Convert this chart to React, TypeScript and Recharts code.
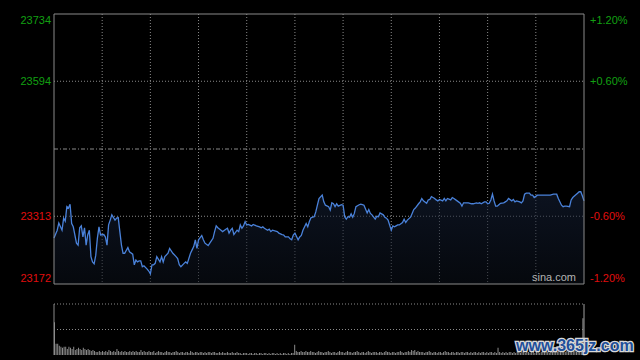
import React from "react";
import {
  ComposedChart,
  Area,
  Line,
  XAxis,
  YAxis,
  CartesianGrid,
  ReferenceLine,
  BarChart,
  Bar,
} from "recharts";

// minutes since 09:30 (lunch break removed), 330 = 16:00
const minutes = [
  0, 2, 3, 5, 6, 7, 8, 9, 10, 11, 12, 14, 15, 16, 17, 18, 19, 20, 21, 22, 23, 24, 25, 26, 27, 28, 29, 31, 32, 33,
  34, 35, 36, 38, 39, 40, 41, 42, 43, 44, 46, 47, 49, 50, 51, 52, 53, 54, 55, 56, 58, 59, 60, 61, 62, 63, 64, 66,
  67, 68, 69, 71, 72, 74, 76, 77, 78, 79, 81, 82, 83,
  85, 86, 87, 88, 89, 90, 92, 93, 94, 96, 97, 99, 100, 101, 102, 104, 105, 107, 108, 109, 110, 111, 112, 114,
  115, 116, 117, 118, 119, 120, 121, 123, 124, 126, 128, 129, 130, 131, 133, 134, 135, 136, 138, 139, 140, 142,
  143, 144, 146, 147, 148, 149, 150, 152, 153, 154, 155, 157, 158, 159, 160, 162, 163, 164, 165, 167,
  168, 169, 171, 172, 173, 174, 175, 176, 177, 179, 180, 181, 182, 183, 184, 185, 186, 187, 188, 190, 191, 192,
  193, 195, 196, 197, 198, 200, 201, 202, 203, 205, 206, 207, 208, 210, 211, 212, 213, 214, 215, 217, 218, 219,
  220, 222, 223, 224, 225, 227, 228, 229, 230, 232, 233, 234, 235, 237, 238, 239, 240, 242, 243, 244, 245, 247,
  248, 249,
  251, 253, 254, 255, 257, 258, 260, 261, 263, 264, 265, 266, 268, 269, 270, 271, 272, 273, 274, 275, 276, 277,
  278, 280, 281, 282, 283, 285, 286, 287, 288, 290, 291, 292, 293, 294, 296, 297, 298, 299, 301, 302, 303, 304,
  306, 307, 308, 309, 311, 312, 313, 314, 316, 317, 318, 319, 321, 322, 323, 324, 326, 327, 328, 329, 330,
];

const prices = [
  23268, 23284, 23299, 23284, 23309, 23303, 23333, 23330, 23338, 23298, 23291, 23257, 23253, 23289, 23293, 23270,
  23289, 23253, 23274, 23284, 23229, 23218, 23214, 23232, 23267, 23291, 23274, 23275, 23270, 23253, 23295, 23305,
  23316, 23305, 23309, 23310, 23281, 23253, 23236, 23236, 23248, 23239, 23234, 23212, 23222, 23218, 23220, 23220,
  23208, 23210, 23203, 23199, 23193, 23212, 23212, 23215, 23229, 23218, 23229, 23218, 23229, 23236, 23246, 23236,
  23229, 23225, 23212, 23208, 23215, 23218, 23215,
  23236, 23243, 23250, 23264, 23246, 23264, 23273, 23264, 23257, 23252, 23257, 23267, 23281, 23293, 23289, 23284,
  23281, 23286, 23288, 23278, 23284, 23288, 23275, 23284, 23281, 23295, 23288, 23293, 23302, 23295, 23296, 23293,
  23296, 23293, 23291, 23289, 23291, 23288, 23284, 23286, 23281, 23284, 23282, 23281, 23278, 23275, 23274, 23270,
  23270, 23266, 23264, 23274, 23278, 23264, 23270, 23273, 23284, 23298, 23291, 23302, 23310, 23312, 23322, 23336,
  23350, 23357,
  23343, 23336, 23333, 23326, 23341, 23339, 23333, 23339, 23334, 23337, 23336, 23312, 23307, 23312, 23311, 23318,
  23311, 23319, 23333, 23337, 23338, 23337, 23336, 23320, 23327, 23319, 23316, 23307, 23313, 23312, 23320, 23316,
  23311, 23309, 23305, 23284, 23293, 23291, 23293, 23295, 23295, 23300, 23307, 23300, 23305, 23311, 23319, 23327,
  23330, 23339, 23343, 23350, 23345, 23340, 23347, 23348, 23354, 23350, 23347, 23345, 23348, 23345, 23350, 23345,
  23350, 23347, 23352, 23350,
  23345, 23340, 23334, 23341, 23341, 23341, 23339, 23339, 23341, 23340, 23341, 23339, 23343, 23343, 23339, 23340,
  23347, 23359, 23345, 23334, 23334, 23337, 23340, 23341, 23343, 23345, 23350, 23345, 23348, 23343, 23345, 23343,
  23341, 23345, 23359, 23361, 23361, 23357, 23357, 23352, 23357, 23357, 23357, 23357, 23357, 23357, 23357, 23357,
  23359, 23359, 23359, 23350, 23336, 23333, 23334, 23334, 23333, 23347, 23352, 23355, 23361, 23364, 23364, 23355,
  23345,
];

// volume per minute, 0..330 (relative units)
const volumes = [
  32, 11, 11, 9, 8, 7, 8, 8, 6, 8,
  7, 6, 8, 5, 6, 7, 6, 5, 7, 6,
  5, 6, 5, 4, 5, 4, 3, 3, 4, 3,
  4, 3, 4, 3, 5, 4, 3, 4, 3, 6,
  4, 3, 4, 3, 4, 3, 3, 4, 3, 4,
  3, 4, 3, 3, 5, 3, 4, 3, 3, 4,
  3, 3, 4, 2, 3, 4, 3, 3, 2, 3,
  4, 3, 3, 2, 3, 3, 4, 3, 2, 3,
  3, 2, 3, 3, 2, 4, 3, 2, 3, 3,
  2, 3, 3, 2, 3, 2, 3, 3, 2, 3,
  3, 2, 2, 3, 2, 3, 2, 2, 3, 2,
  2, 3, 2, 2, 3, 2, 2, 1, 2, 2,
  2, 1, 2, 2, 1, 2, 2, 1, 2, 2,
  1, 2, 2, 1, 2, 1, 2, 2, 1, 2,
  1, 2, 1, 2, 2, 1, 2, 1, 2, 2,
  10, 4, 3, 3, 4, 3, 3, 4, 3, 3,
  4, 3, 3, 2, 3, 4, 3, 3, 2, 3,
  3, 4, 3, 2, 3, 3, 2, 3, 4, 3,
  3, 2, 3, 4, 3, 3, 2, 3, 3, 4,
  3, 2, 3, 3, 2, 3, 4, 3, 2, 3,
  3, 3, 2, 3, 3, 2, 3, 4, 3, 3,
  2, 3, 3, 2, 3, 3, 4, 3, 2, 3,
  3, 4, 3, 5, 4, 5, 3, 4, 3, 3,
  3, 2, 3, 3, 4, 3, 2, 3, 3, 2,
  3, 3, 2, 3, 4, 3, 3, 2, 3, 3,
  2, 3, 3, 2, 3, 3, 2, 3, 3, 2,
  3, 2, 3, 3, 2, 3, 2, 3, 3, 2,
  3, 2, 3, 3, 2, 3, 2, 7, 3, 2,
  3, 2, 3, 2, 3, 3, 2, 3, 2, 3,
  3, 2, 3, 3, 2, 3, 3, 2, 3, 3,
  2, 3, 3, 2, 3, 3, 4, 3, 3, 2,
  3, 3, 4, 3, 3, 4, 3, 4, 3, 3,
  4, 3, 4, 3, 4, 4, 3, 4, 3, 4,
  36,
];

const prevClose = 23453;
const priceTicks = [23172, 23313, 23453, 23594, 23734];
const pctTicks = [-1.2, -0.6, 0, 0.6, 1.2];
const timeGrid = [30, 60, 90, 120, 150, 180, 210, 240, 270, 300];

const priceData = minutes.map((m, i) => ({
  m,
  price: prices[i],
  pct: ((prices[i] - prevClose) / prevClose) * 100,
}));
const volumeData = volumes.map((v, i) => ({ m: i, vol: v }));

const GREEN = "#12a012";
const RED = "#e00e0e";
const BORDER = "#8a8a8a";
const GRID = "#8a8a8a";
const FONT = "Arial, 'Liberation Sans', sans-serif";

// edge labels are pushed inside the box like the original
function edgeShift(index: number, count: number) {
  if (index === count - 1) return 6;
  if (index === 0) return -6;
  return 0;
}

function PriceTick(props: any) {
  const { x, y, payload, index } = props;
  const v = Number(payload.value);
  if (v === prevClose) return null;
  return (
    <text
      x={x}
      y={y + edgeShift(index, priceTicks.length)}
      dy="0.36em"
      textAnchor="end"
      fill={v > prevClose ? GREEN : RED}
      fontSize={11}
      fontFamily={FONT}
    >
      {v}
    </text>
  );
}

function PctTick(props: any) {
  const { x, y, payload, index } = props;
  const v = Number(payload.value);
  if (v === 0) return null;
  return (
    <text
      x={x}
      y={y + edgeShift(index, pctTicks.length)}
      dy="0.36em"
      textAnchor="start"
      fill={v > 0 ? GREEN : RED}
      fontSize={11}
      fontFamily={FONT}
    >
      {(v > 0 ? "+" : "") + v.toFixed(2) + "%"}
    </text>
  );
}

export default function App() {
  return (
    <div style={{ position: "relative", width: 640, height: 360, background: "#000" }}>
      <style>{`body{margin:0;background:#000}`}</style>
      <ComposedChart
        width={640}
        height={290}
        data={priceData}
        margin={{ top: 14, right: 0, bottom: 6, left: 0 }}
      >
        <defs>
          <linearGradient id="priceFill" x1="0" y1="0" x2="0" y2="1">
            <stop offset="0%" stopColor="#16223a" stopOpacity={0.9} />
            <stop offset="100%" stopColor="#0a0f18" stopOpacity={0.9} />
          </linearGradient>
        </defs>
        <XAxis dataKey="m" type="number" domain={[0, 330]} ticks={timeGrid} hide />
        <YAxis
          domain={[23172, 23734]}
          ticks={priceTicks}
          width={54}
          axisLine={{ stroke: BORDER }}
          tickLine={false}
          tickSize={0}
          tickMargin={3}
          tick={<PriceTick />}
          interval={0}
        />
        <YAxis
          yAxisId="pct"
          orientation="right"
          type="number"
          domain={[-1.2, 1.2]}
          ticks={pctTicks}
          width={56}
          axisLine={{ stroke: BORDER }}
          tickLine={false}
          tickSize={0}
          tickMargin={6}
          tick={<PctTick />}
          interval={0}
        />
        <CartesianGrid
          stroke={GRID}
          strokeDasharray="1 2"
          horizontalValues={[23313, 23594]}
          verticalValues={timeGrid}
        />
        <ReferenceLine y={prevClose} stroke={GRID} strokeDasharray="4 2 1 2" />
        <ReferenceLine y={23734} stroke={BORDER} />
        <ReferenceLine y={23172} stroke={BORDER} />
        <Area
          type="linear"
          dataKey="price"
          stroke="#4a82da"
          strokeWidth={1.3}
          fill="url(#priceFill)"
          dot={false}
          activeDot={false}
          isAnimationActive={false}
        />
        {/* invisible series so the percent axis gets its ticks */}
        <Line
          yAxisId="pct"
          dataKey="pct"
          stroke="none"
          dot={false}
          activeDot={false}
          isAnimationActive={false}
        />
      </ComposedChart>

      <div
        style={{
          position: "absolute",
          left: 532,
          top: 271,
          fontSize: 11,
          color: "#b4b4b4",
          fontFamily: FONT,
        }}
      >
        sina.com
      </div>

      <div style={{ position: "absolute", left: 0, top: 290 }}>
        <BarChart
          width={640}
          height={65}
          data={volumeData}
          margin={{ top: 14, right: 0, bottom: 0, left: 0 }}
          barCategoryGap={0}
        >
          <XAxis dataKey="m" hide />
          <YAxis
            domain={[0, 50]}
            width={54}
            tick={false}
            tickLine={false}
            axisLine={{ stroke: BORDER }}
          />
          <YAxis
            yAxisId="r"
            orientation="right"
            domain={[0, 50]}
            width={56}
            tick={false}
            tickLine={false}
            axisLine={{ stroke: "#a0a0a0" }}
          />
          <ReferenceLine y={50} stroke={GRID} strokeDasharray="1 2" />
          <ReferenceLine y={25} stroke={GRID} strokeDasharray="1 2" />
          <Bar dataKey="vol" fill="#8c8c8c" barSize={1} isAnimationActive={false} />
        </BarChart>
      </div>

      <svg
        width={130}
        height={24}
        style={{ position: "absolute", left: 512, top: 333 }}
      >
        <text
          x={4}
          y={18}
          fontSize={16}
          fontWeight="bold"
          fontFamily={FONT}
          fill="#1f4f9a"
          stroke="#d8d8d8"
          strokeWidth={2.5}
          paintOrder="stroke"
        >
          www.365jz.com
        </text>
      </svg>
    </div>
  );
}
